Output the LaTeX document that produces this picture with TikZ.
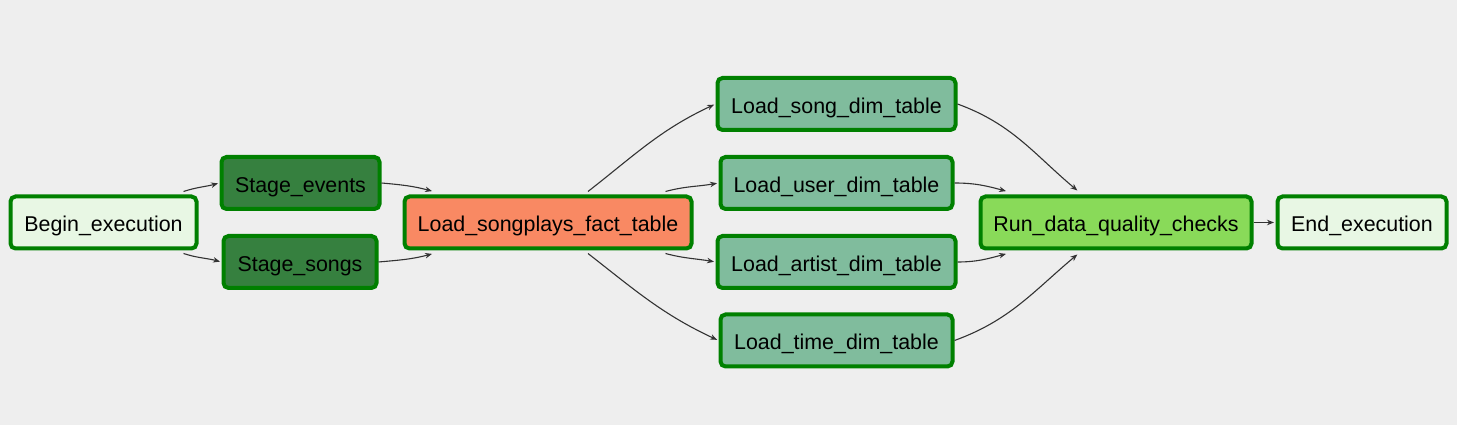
\documentclass[tikz,border=0pt]{standalone}
\usepackage{fontspec}
\setmainfont{Liberation Sans}
\usetikzlibrary{arrows.meta,calc}
\definecolor{bg}{HTML}{EEEEEE}
\definecolor{bord}{HTML}{008000}
\definecolor{lightf}{HTML}{E8F7E4}
\definecolor{stagef}{HTML}{36803F}
\definecolor{factf}{HTML}{F98963}
\definecolor{dimf}{HTML}{80BC9D}
\definecolor{checkf}{HTML}{89DA59}
\definecolor{edgec}{HTML}{333333}
\begin{document}
\begin{tikzpicture}[x=1pt,y=1pt,
  task/.style={draw=bord,line width=4pt,rounded corners=5pt,inner sep=0pt,
    minimum height=52pt,text height=18.4pt,text depth=0pt,
    font=\fontsize{21.4}{25}\selectfont,text=black},
  flow/.style={draw=edgec,line width=1.1pt,-{Stealth[length=7pt,width=5.5pt]},shorten >=1.5pt}]
\fill[bg] (0,0) rectangle (1457,425);
\useasboundingbox (0,0) rectangle (1457,425);
\node[task,fill=lightf,minimum width=186pt] (begin) at (103.5,202.5) {Begin\_execution};
\node[task,fill=stagef,minimum width=158pt] (se) at (300.5,242) {Stage\_events};
\node[task,fill=stagef,minimum width=153pt] (ss) at (300,163) {Stage\_songs};
\node[task,fill=factf,minimum width=287pt] (sp) at (548,202.5) {Load\_songplays\_fact\_table};
\node[task,fill=dimf,minimum width=238pt] (song) at (836.5,321) {Load\_song\_dim\_table};
\node[task,fill=dimf,minimum width=232pt] (user) at (836.5,242) {Load\_user\_dim\_table};
\node[task,fill=dimf,minimum width=238pt] (artist) at (836.5,163) {Load\_artist\_dim\_table};
\node[task,fill=dimf,minimum width=232pt] (time) at (836.5,84.5) {Load\_time\_dim\_table};
\node[task,fill=checkf,minimum width=271pt] (run) at (1116,202.5) {Run\_data\_quality\_checks};
\node[task,fill=lightf,minimum width=169pt] (end) at (1362,202.5) {End\_execution};

\draw[flow] ($(begin.north east)+(-15,3)$) to[out=18,in=195] (se.west);
\draw[flow] ($(begin.south east)+(-15,-3)$) to[out=-18,in=165] (ss.west);
\draw[flow] (se.east) to[out=-5,in=165] ($(sp.north west)+(31,3)$);
\draw[flow] (ss.east) to[out=5,in=195] ($(sp.south west)+(31,-3)$);
\draw[flow] ($(sp.north)+(40,3)$) to[out=38,in=205] (song.west);
\draw[flow] ($(sp.north east)+(-28,3)$) to[out=15,in=190] (user.west);
\draw[flow] ($(sp.south east)+(-28,-3)$) to[out=-15,in=170] (artist.west);
\draw[flow] ($(sp.south)+(40,-3)$) to[out=-38,in=155] (time.west);
\draw[flow] (song.east) to[out=-20,in=140] ($(run.north west)+(100,3)$);
\draw[flow] (user.east) to[out=0,in=165] ($(run.north west)+(29,3)$);
\draw[flow] (artist.east) to[out=0,in=195] ($(run.south west)+(29,-3)$);
\draw[flow] (time.east) to[out=20,in=220] ($(run.south west)+(100,-3)$);
\draw[flow] (run.east) -- (end.west);
\end{tikzpicture}
\end{document}
